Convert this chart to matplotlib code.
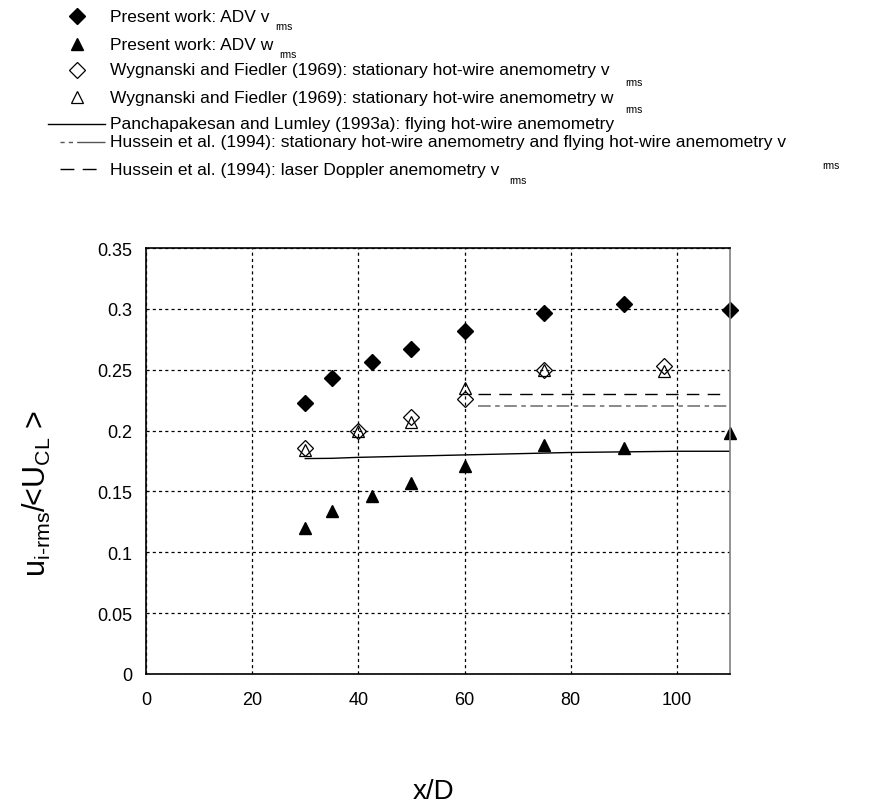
import matplotlib
matplotlib.use('Agg')
import matplotlib.pyplot as plt
from matplotlib.lines import Line2D
from matplotlib.ticker import FormatStrFormatter

plt.rcParams['font.family'] = ['Liberation Sans', 'DejaVu Sans']
plt.rcParams['mathtext.fontset'] = 'custom'
plt.rcParams['mathtext.rm'] = 'Liberation Sans'
plt.rcParams['mathtext.it'] = 'Liberation Sans'

# present work (ADV)
adv_x = [30, 35, 42.5, 50, 60, 75, 90, 110]
adv_v = [0.223, 0.243, 0.256, 0.267, 0.282, 0.297, 0.304, 0.299]
adv_w = [0.120, 0.134, 0.146, 0.157, 0.171, 0.188, 0.186, 0.198]

# Wygnanski and Fiedler (1969)
wf_x = [30, 40, 50, 60, 75, 97.5]
wf_v = [0.186, 0.200, 0.211, 0.226, 0.250, 0.253]
wf_w = [0.184, 0.200, 0.207, 0.235, 0.250, 0.249]

# Panchapakesan and Lumley (1993a)
pl_x = [30, 35, 40, 50, 60, 70, 80, 90, 100, 110]
pl_y = [0.177, 0.1772, 0.178, 0.179, 0.180, 0.181, 0.182, 0.1825, 0.183, 0.183]

# Hussein et al. (1994)
hus_x = [62.5, 109.5]
hus_hw = [0.220, 0.220]
hus_ldv = [0.230, 0.230]

legend_labels = [
    "Present work: ADV v",
    "Present work: ADV w",
    "Wygnanski and Fiedler (1969): stationary hot-wire anemometry v",
    "Wygnanski and Fiedler (1969): stationary hot-wire anemometry w",
    "Panchapakesan and Lumley (1993a): flying hot-wire anemometry",
    "Hussein et al. (1994): stationary hot-wire anemometry and flying hot-wire anemometry v",
    "Hussein et al. (1994): laser Doppler anemometry v",
]
legend_subs = ["rms", "rms", "rms", "rms", "", "rms", "rms"]

W, H = 870, 812
fig = plt.figure(figsize=(W / 100, H / 100), dpi=100)
ax = fig.add_axes([146 / W, 1 - 675 / H, 584 / W, 426 / H])

ax.grid(True, color='black', lw=0.9, dashes=(2.5, 2.5))
ax.set_axisbelow(True)

hw_style = dict(color='#808080', lw=1.3, dashes=(7, 2.5, 2.5, 2.5))
ldv_style = dict(color='black', lw=1.0, dashes=(9, 6))

ax.plot(pl_x, pl_y, color='black', lw=1.0)
ax.plot(hus_x, hus_hw, **hw_style)
ax.plot(hus_x, hus_ldv, **ldv_style)

ax.plot(adv_x, adv_v, 'D', color='black', ms=8.5, ls='none', clip_on=False)
ax.plot(adv_x, adv_w, '^', color='black', ms=9, ls='none', clip_on=False)
ax.plot(wf_x, wf_v, 'D', mfc='none', mec='black', mew=0.9, ms=8.5, ls='none', clip_on=False)
ax.plot(wf_x, wf_w, '^', mfc='none', mec='black', mew=0.9, ms=9, ls='none', clip_on=False)

ax.set_xlim(0, 110)
ax.set_ylim(0, 0.35)
ax.set_xticks([0, 20, 40, 60, 80, 100])
ax.set_yticks([0, 0.05, 0.1, 0.15, 0.2, 0.25, 0.3, 0.35])
ax.yaxis.set_major_formatter(FormatStrFormatter('%g'))
ax.tick_params(length=0, labelsize=13, pad=10)
ax.tick_params(axis='x', pad=12)
for s in ['left', 'top', 'bottom']:
    ax.spines[s].set_color('black')
    ax.spines[s].set_linewidth(1.2)
ax.spines['right'].set_color('#808080')
ax.spines['right'].set_linewidth(1.2)


def fx(px):
    return px / W


def fy(py):
    return 1 - py / H


# axis titles
fig.text(fx(434), fy(792), 'x/D', fontsize=20, ha='center', va='center')
fig.text(fx(37), fy(494), r'u$_{\text{i-rms}}$/<U$_{\text{CL}}$ >',
         fontsize=22, rotation=90, ha='center', va='center')

# legend drawn above the axes, Excel style
row_y = [17, 45, 71, 98, 125, 143, 170]
sub_dy = [10, 10, 12, 12, 0, 23, 11]
gaps = [6, 6, 16, 12, 0, 36, 10]
marker_x = 77
text_x = 110

fig.add_artist(Line2D([fx(marker_x)], [fy(row_y[0])], marker='D', color='black', ms=8, ls='none'))
fig.add_artist(Line2D([fx(marker_x)], [fy(row_y[1])], marker='^', color='black', ms=9, ls='none'))
fig.add_artist(Line2D([fx(marker_x)], [fy(row_y[2])], marker='D', mfc='none', mec='black', mew=0.9, ms=8, ls='none'))
fig.add_artist(Line2D([fx(marker_x)], [fy(row_y[3])], marker='^', mfc='none', mec='black', mew=0.9, ms=9, ls='none'))
fig.add_artist(Line2D([fx(48), fx(105)], [fy(row_y[4])] * 2, color='black', lw=1.0))
fig.add_artist(Line2D([fx(60), fx(105)], [fy(row_y[5])] * 2, color='#555555', lw=1.0,
                      ls=(0, (3, 3, 3, 3, 22, 0))))
fig.add_artist(Line2D([fx(60), fx(103)], [fy(row_y[6])] * 2, color='black', lw=1.0,
                      ls=(0, (10, 6))))

renderer = fig.canvas.get_renderer()
for i, (lab, sub) in enumerate(zip(legend_labels, legend_subs)):
    t = fig.text(fx(text_x), fy(row_y[i]), lab, fontsize=12.5, va='center', ha='left')
    if sub:
        bb = t.get_window_extent(renderer=renderer)
        fig.text(bb.x1 / W + fx(gaps[i]), fy(row_y[i] + sub_dy[i]), sub,
                 fontsize=7.5, va='center', ha='left')

fig.savefig('out.png', dpi=100)
